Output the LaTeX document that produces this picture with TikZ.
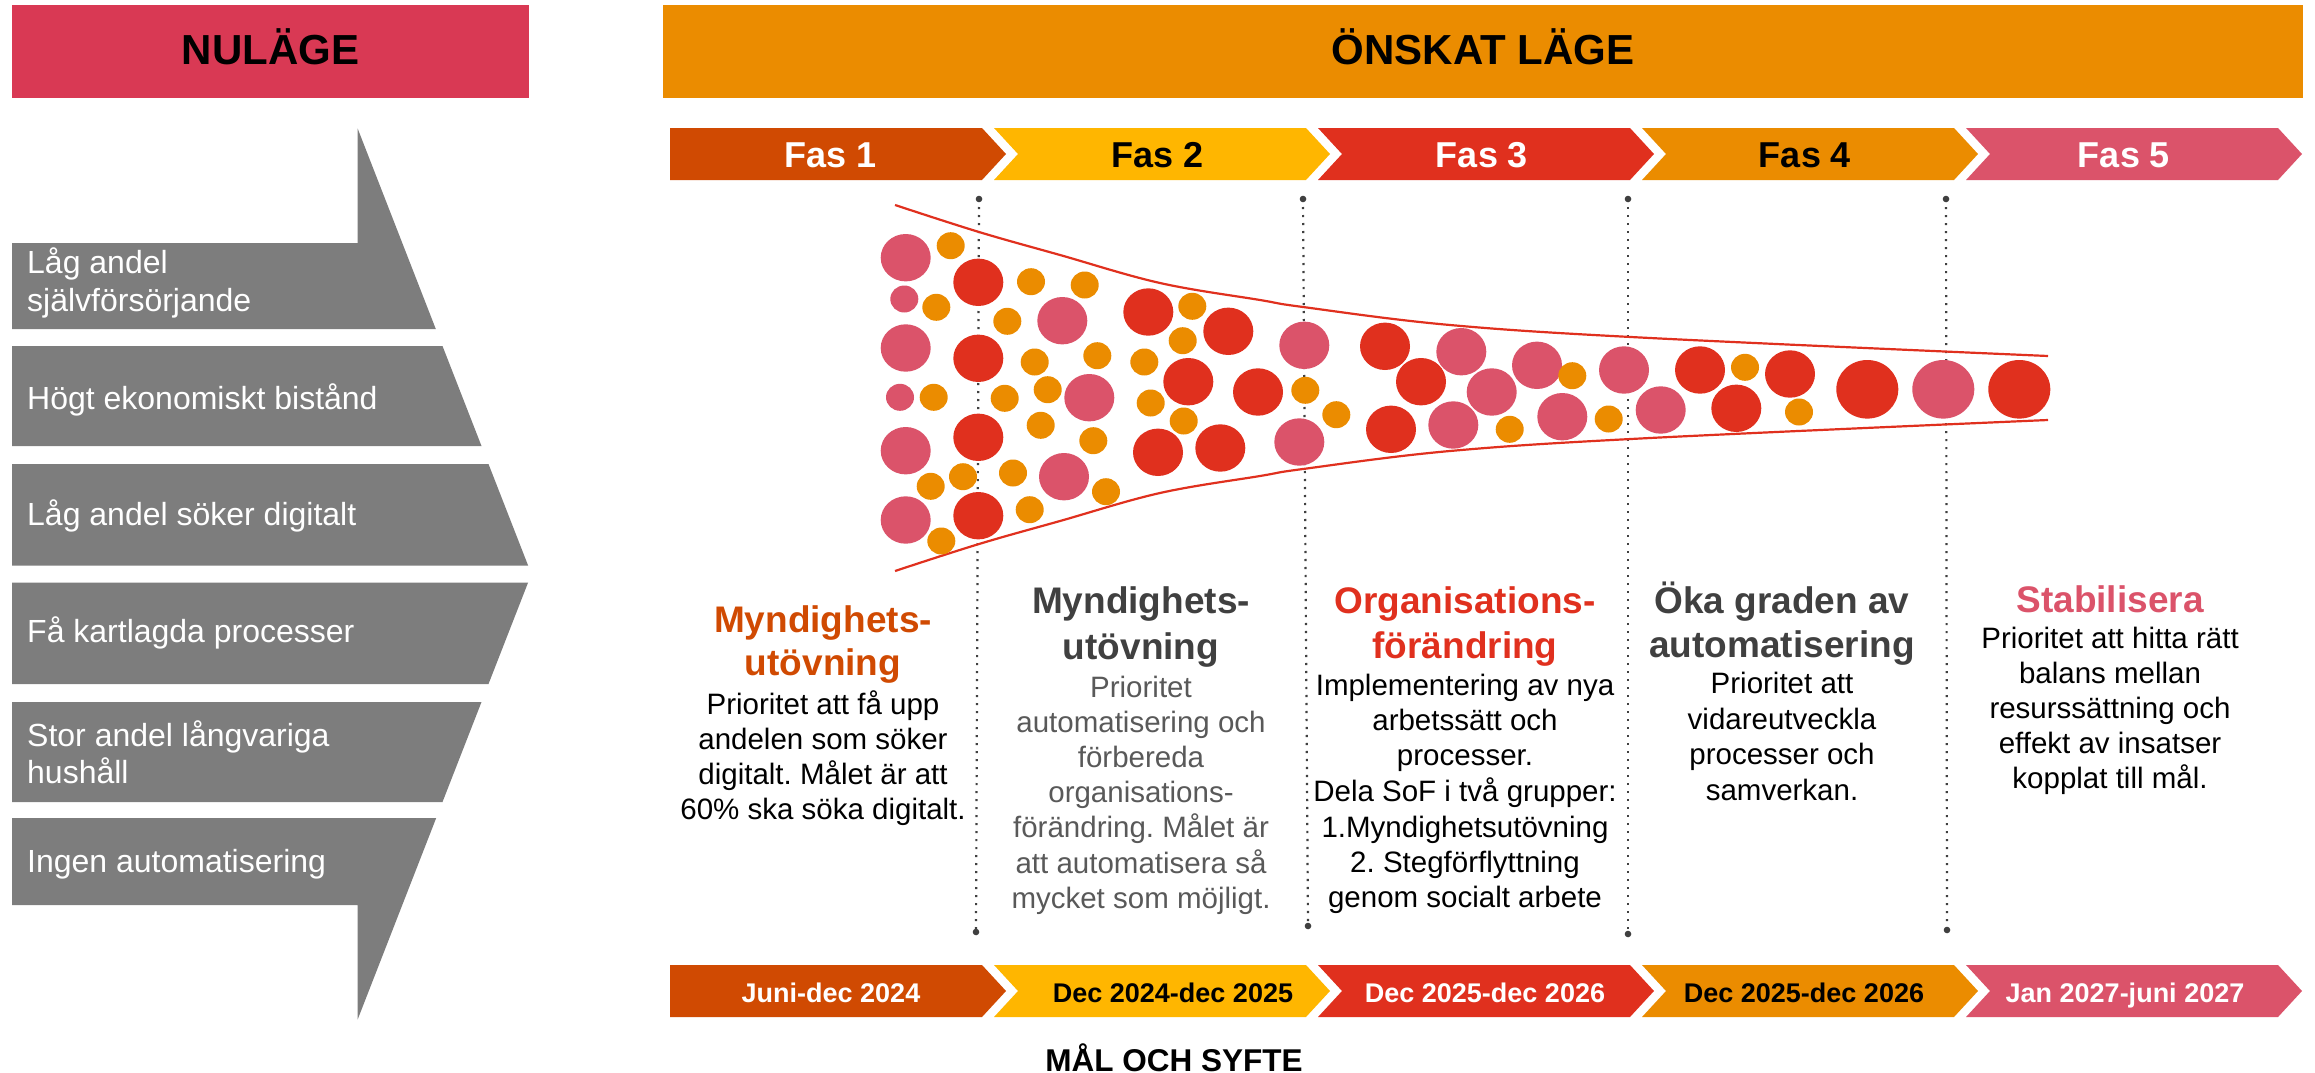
\documentclass[tikz,border=0pt]{standalone}
\usepackage{fontspec}
\setmainfont{Liberation Sans}
\definecolor{rose}{HTML}{D93954}
\definecolor{pwcorange}{HTML}{EB8C00}
\definecolor{tangerine}{HTML}{D04A02}
\definecolor{pwcyellow}{HTML}{FFB600}
\definecolor{pwcred}{HTML}{E0301E}
\definecolor{pwcpink}{HTML}{DB536A}
\definecolor{boxgray}{HTML}{7D7D7D}
\definecolor{dotgray}{HTML}{404040}
\definecolor{bodygray}{HTML}{595959}
\begin{document}
\frenchspacing
\begin{tikzpicture}[x=1pt,y=-1pt,
  graytext/.style={anchor=base west,text=white,inner sep=0,font=\fontsize{32}{37}\selectfont},
  titletext/.style={anchor=base,inner sep=0,font=\fontsize{42}{48}\selectfont\bfseries},
  fastext/.style={anchor=base,inner sep=0,font=\fontsize{36}{40}\selectfont\bfseries},
  datetext/.style={anchor=base,inner sep=0,font=\fontsize{27}{30}\selectfont\bfseries},
  headtext/.style={anchor=base,inner sep=0,font=\fontsize{37}{43}\selectfont\bfseries},
  bodytext/.style={anchor=base,inner sep=0,font=\fontsize{29.5}{35}\selectfont},
  dotline/.style={dotgray,line width=2.2pt,dash pattern=on 2.2pt off 5.8pt},
  funnel/.style={pwcred,line width=2.2pt},
  bigc/.style={x radius=25pt,y radius=23.7pt},
  smallc/.style={x radius=14pt,y radius=13.5pt},
  xlc/.style={x radius=31pt,y radius=29.3pt}]
\useasboundingbox (0,0) rectangle (2315,1073);

% ---- title boxes
\fill[rose] (12,5) rectangle (529,98);
\node[titletext] (nulage) at (270.5,65) {NULÄGE};
\fill[pwcorange] (663,5) rectangle (2303,98);
\node[titletext] (onskat) at (1483,65) {ÖNSKAT LÄGE};

% ---- grey arrow slices
\fill[boxgray] (12,243) -- (357.7,243) -- (357.7,128.6) -- (435.8,329) -- (12,329) -- cycle;
\fill[boxgray] (12,346) -- (442.5,346) -- (481.5,446) -- (12,446) -- cycle;
\fill[boxgray] (12,464) -- (488.5,464) -- (528.1,565.5) -- (12,565.5) -- cycle;
\fill[boxgray] (12,582.5) -- (528.1,582.5) -- (488.5,684) -- (12,684) -- cycle;
\fill[boxgray] (12,702) -- (481.5,702) -- (442.5,802) -- (12,802) -- cycle;
\fill[boxgray] (12,818) -- (436.2,818) -- (357.7,1019.4) -- (357.7,905) -- (12,905) -- cycle;
\node[graytext] (g1a) at (27,273) {Låg andel};
\node[graytext] (g1b) at (27,311) {självförsörjande};
\node[graytext] (g2) at (27,409) {Högt ekonomiskt bistånd};
\node[graytext] (g3) at (27,525) {Låg andel söker digitalt};
\node[graytext] (g4) at (27,642) {Få kartlagda processer};
\node[graytext] (g5a) at (27,746) {Stor andel långvariga};
\node[graytext] (g5b) at (27,783) {hushåll};
\node[graytext] (g6) at (27,872) {Ingen automatisering};

% ---- phase chevrons (top and bottom)
\foreach \yt in {128,965} {
  \fill[tangerine] (670,\yt) -- ++(312,0) -- ++(24,26) -- ++(-24,26) -- ++(-312,0) -- cycle;
  \foreach \s/\c in {994/pwcyellow,1318/pwcred,1642/pwcorange,1966/pwcpink}
    \fill[\c] (\s,\yt) -- ++(312,0) -- ++(24,26) -- ++(-24,26) -- ++(-312,0) -- ++(24,-26) -- cycle;
}
\node[fastext,text=white] (fas1) at (831,167) {Fas 1};
\node[fastext,text=black] (fas2) at (1158,167) {Fas 2};
\node[fastext,text=white] (fas3) at (1482,167) {Fas 3};
\node[fastext,text=black] (fas4) at (1805,167) {Fas 4};
\node[fastext,text=white] (fas5) at (2124,167) {Fas 5};
\node[datetext,text=white] (d1) at (831,1002.5) {Juni-dec 2024};
\node[datetext,text=black] (d2) at (1173,1002.5) {Dec 2024-dec 2025};
\node[datetext,text=white] (d3) at (1485,1002.5) {Dec 2025-dec 2026};
\node[datetext,text=black] (d4) at (1804,1002.5) {Dec 2025-dec 2026};
\node[datetext,text=white] (d5) at (2125,1002.5) {Jan 2027-juni 2027};
\node[headtext,font=\fontsize{31.5}{36}\selectfont\bfseries] (mal) at (1174,1071) {MÅL OCH SYFTE};

% ---- dotted separators
\foreach \xa/\xb/\yb [count=\i] in {979/976/932,1303/1308/926,1628/1628/934,1946/1947/930} {
  \coordinate (st\i) at (\xa,199);
  \coordinate (sb\i) at (\xb,\yb);
  \draw[dotline] (st\i) -- (sb\i);
  \fill[dotgray] (st\i) circle (3.3pt) (sb\i) circle (3.3pt);
}

% ---- funnel
\draw[funnel] plot[smooth,tension=0.6] coordinates {(895,205) (979,232) (1060,255) (1160,283) (1260,300) (1303,307) (1450,325) (1650,338) (2048,356)};
\draw[funnel] plot[smooth,tension=0.6] coordinates {(895,571) (979,544) (1060,521) (1160,493) (1260,476) (1303,469) (1450,451) (1650,438) (2048,420)};

% ---- balls
\foreach \x/\y in {905.7/257.7,1062.3/320.7,905.7/348,1089.3/397.7,905.7/450.7,1064/476.7,905.7/520,1304.3/345.3,1299.3/442,1461.3/351.7,1491.7/392,1453.3/425,1537/365.3,1562.3/416.7,1624/370,1660.7/410}
  \fill[pwcpink] (\x,\y) ellipse [bigc];
\foreach \x/\y in {978.3/282.3,1148.3/312,1228.3/331.3,978.3/358.3,1188.3/381.7,1258/392,978.3/437.3,1158/452.3,1220.3/448,978.3/515.7,1385/346.3,1421/381.7,1391/429.3,1700/370,1736.3/408.3,1790/374}
  \fill[pwcred] (\x,\y) ellipse [bigc];
\foreach \x/\y in {904.3/299,900/397.3}
  \fill[pwcpink] (\x,\y) ellipse [smallc];
\foreach \x/\y in {950.7/245.7,936.3/307.3,1031/281.7,1084.7/285,1007.3/321.3,1192.3/306.3,1182.7/340.7,1034.7/362,1097.3/355.7,1144.3/362,933.7/397.3,1004.7/398.3,1047.7/389.7,1150.7/403,1183.7/421,1040.7/425.3,1093.3/440.7,930.7/486.3,963/476.7,1013/473,1106/491.7,1029.7/509.7,941.3/541,1305.3/390.3,1336.3/414.7,1509.7/429.3,1572.3/375.7,1608.7/419,1745/367.3,1799/412}
  \fill[pwcorange] (\x,\y) ellipse [smallc];
\fill[pwcred] (1867.3,389.3) ellipse [xlc];
\fill[pwcpink] (1943.3,389.3) ellipse [xlc];
\fill[pwcred] (2019.3,389.3) ellipse [xlc];

% ---- column texts
\foreach \t/\yy [count=\i] in {{Myndighets-}/632,{utövning}/675}
  \node[headtext,text=tangerine] (c1h\i) at (823,\yy) {\t};
\foreach \t/\yy [count=\i] in {{Prioritet att få upp}/714,{andelen som söker}/749,{digitalt. Målet är att}/784,{60\% ska söka digitalt.}/819}
  \node[bodytext,text=black] (c1b\i) at (823,\yy) {\t};

\foreach \t/\yy [count=\i] in {{Myndighets-}/613,{utövning}/659}
  \node[headtext,text=dotgray] (c2h\i) at (1141,\yy) {\t};
\foreach \t/\yy [count=\i] in {{Prioritet}/697,{automatisering och}/732,{förbereda}/767,{organisations-}/802,{förändring. Målet är}/837,{att automatisera så}/873,{mycket som möjligt.}/908}
  \node[bodytext,text=bodygray] (c2b\i) at (1141,\yy) {\t};

\foreach \t/\yy [count=\i] in {{Organisations-}/613,{förändring}/658}
  \node[headtext,text=pwcred] (c3h\i) at (1465,\yy) {\t};
\foreach \t/\yy [count=\i] in {{Implementering av nya}/695,{arbetssätt och}/730,{processer.}/765,{Dela SoF i två grupper:}/801,{1.Myndighetsutövning}/837,{2. Stegförflyttning}/872,{genom socialt arbete}/907}
  \node[bodytext,text=black] (c3b\i) at (1465,\yy) {\t};

\foreach \t/\yy [count=\i] in {{Öka graden av}/613,{automatisering}/657}
  \node[headtext,text=dotgray] (c4h\i) at (1782,\yy) {\t};
\foreach \t/\yy [count=\i] in {{Prioritet att}/693,{vidareutveckla}/729,{processer och}/764,{samverkan.}/800}
  \node[bodytext,text=black] (c4b\i) at (1782,\yy) {\t};

\node[headtext,text=pwcpink] (c5h1) at (2110,612) {Stabilisera};
\foreach \t/\yy [count=\i] in {{Prioritet att hitta rätt}/648,{balans mellan}/683,{resurssättning och}/718,{effekt av insatser}/753,{kopplat till mål.}/788}
  \node[bodytext,text=black] (c5b\i) at (2110,\yy) {\t};
\end{tikzpicture}
\end{document}
